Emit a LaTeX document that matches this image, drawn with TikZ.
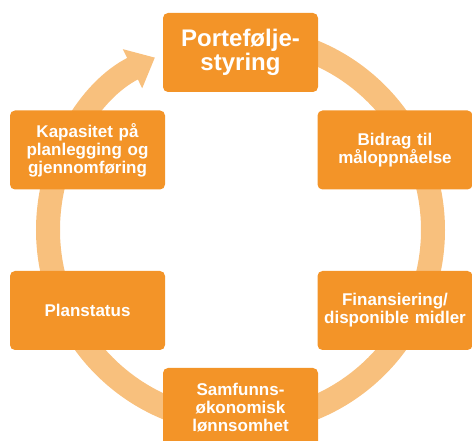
\documentclass[tikz,border=0pt]{standalone}
\usepackage{fontspec}
\setmainfont{Liberation Sans}
\usetikzlibrary{arrows.meta}
\definecolor{boxorange}{RGB}{243,148,40}
\definecolor{ringorange}{RGB}{248,192,125}

\begin{document}
\begin{tikzpicture}[x=1pt,y=1pt,
    box/.style={fill=boxorange, text=white, rounded corners=5pt,
        minimum width=155pt, minimum height=79pt, text width=152pt,
        align=center, inner sep=0pt, font=\bfseries\fontsize{17}{18}\selectfont}]

    \useasboundingbox (0,0) rectangle (472,441);

    % Ring with arrow head (clockwise)
    \coordinate (c) at (240.5,211);
    \draw[ringorange, line width=24pt, -{Triangle[length=25pt,width=42pt]}]
        ([shift={(90:192.5)}]c) arc[start angle=90, end angle=-243.6, radius=192.5];

    % Boxes
    \node[box, font=\bfseries\fontsize{24}{24}\selectfont] (porte) at (240.5,388.5) {Portefølje-\\styring};
    \node[box] (bidrag) at (395,291) {Bidrag til\\måloppnåelse};
    \node[box] (finans) at (395,130.5) {Finansiering/\\disponible midler};
    \node[box] (samfunn) at (240.5,33.5) {Samfunns-\\økonomisk\\lønnsomhet};
    \node[box] (plan) at (87.5,130.5) {Planstatus};
    \node[box] (kapasitet) at (87.5,291) {Kapasitet på\\planlegging og\\gjennomføring};

\end{tikzpicture}
\end{document}
